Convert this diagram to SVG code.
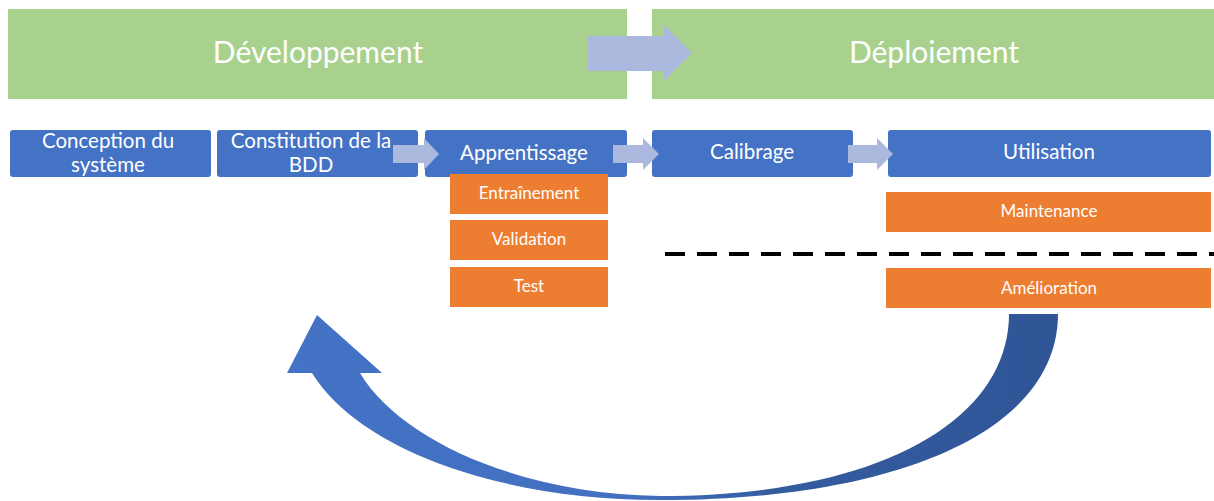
<svg xmlns="http://www.w3.org/2000/svg" width="1214" height="501" viewBox="0 0 1214 501">
<style>
.phase{fill:#A9D18E}
.step{fill:#4472C4}
.sub{fill:#ED7D31}
.arr{fill:#ABB9DF}
text{font-family:Lato,"Open Sans","Liberation Sans",sans-serif;fill:#FFFFFF;text-anchor:middle}
.t1{font-size:30px}
.t2{font-size:20.5px}
.t3{font-size:17px}
</style>
<defs>
<linearGradient id="loopGrad" gradientUnits="userSpaceOnUse" x1="300" y1="0" x2="1060" y2="0">
<stop offset="0" stop-color="#4472C4"/>
<stop offset="0.42" stop-color="#4370C1"/>
<stop offset="0.62" stop-color="#355C9F"/>
<stop offset="1" stop-color="#2F5597"/>
</linearGradient>
</defs>
<rect width="1214" height="501" fill="#FFFFFF"/>

<g id="phase-dev"><rect class="phase" x="8" y="9" width="619" height="90"/><text class="t1" x="318" y="63">Développement</text></g>
<g id="phase-deploy"><rect class="phase" x="652" y="9" width="562" height="90"/><text class="t1" x="934" y="63">Déploiement</text></g>

<g id="conception"><rect class="step" x="10" y="130" width="201" height="47" rx="3"/><text class="t2" x="108" y="148">Conception du</text><text class="t2" x="108" y="172">système</text></g>
<g id="constitution"><rect class="step" x="217" y="130" width="201" height="47" rx="3"/><text class="t2" x="311" y="148">Constitution de la</text><text class="t2" x="311" y="172">BDD</text></g>
<g id="apprentissage"><rect class="step" x="425" y="130" width="202" height="47" rx="3"/><text class="t2" x="524" y="160">Apprentissage</text></g>
<g id="calibrage"><rect class="step" x="652" y="130" width="201" height="47" rx="3"/><text class="t2" x="752" y="159">Calibrage</text></g>
<g id="utilisation"><rect class="step" x="888" y="130" width="323" height="47" rx="3"/><text class="t2" x="1049" y="159">Utilisation</text></g>

<g id="entrainement"><rect class="sub" x="450" y="174" width="158" height="40"/><text class="t3" x="529" y="199">Entraînement</text></g>
<g id="validation"><rect class="sub" x="450" y="220" width="158" height="40"/><text class="t3" x="529" y="245">Validation</text></g>
<g id="test"><rect class="sub" x="450" y="267" width="158" height="40"/><text class="t3" x="529" y="292">Test</text></g>
<g id="maintenance"><rect class="sub" x="886" y="192" width="325" height="40"/><text class="t3" x="1049" y="217">Maintenance</text></g>
<g id="amelioration"><rect class="sub" x="886" y="268" width="325" height="40"/><text class="t3" x="1049" y="294">Amélioration</text></g>

<line id="separator" x1="665" y1="254" x2="1214" y2="254" stroke="#000000" stroke-width="4" stroke-dasharray="20 12"/>

<g id="connectors">
<polygon class="arr" points="588,36 664,36 664,25 692,53 664,81 664,71 588,71"/>
<polygon class="arr" points="393,145 424,145 424,138 439,154 424,170 424,163 393,163"/>
<polygon class="arr" points="613,145 643,145 643,138 659,154 643,170 643,163 613,163"/>
<polygon class="arr" points="848,145 877,145 877,138 893,154 877,170 877,163 848,163"/>
<path fill="url(#loopGrad)" d="M1058,314 C1058,430 900,500 660,500 C500,500 360,450 312,373 L287,373 L317,315 L382,373 L360,373 C400,440 520,494 660,496 C880,496 1009,420 1009,314 Z"/>
</g>
</svg>
